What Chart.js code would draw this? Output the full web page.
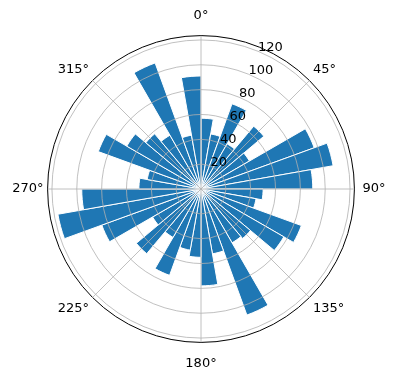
<!doctype html>
<html lang="en">
  <head>
    <meta charset="utf-8">
    <title>polar bars</title>
    <style>
      html, body { margin: 0; padding: 0; background: #fff; }
      #wrap { width: 396px; height: 380px; }
    </style>
  </head>
  <body>
    <div id="wrap"><canvas id="polar-chart"></canvas></div>

    <script src="https://cdn.jsdelivr.net/npm/chart.js"></script>
    <script>
        // bar heights, one per 10 degree sector, clockwise from north
        var barValues = [57, 45, 73, 42, 66, 45, 97, 108, 90,
                         50, 45, 86, 77, 52, 50, 108, 53, 78,
                         55, 50, 74, 45, 68, 45, 85, 117, 96,
                         50, 44, 88, 69, 58, 50, 108, 44, 91]
        // angle labels round the outside
        var angleLabels = ['0°', '45°', '90°', '135°', '180°', '225°', '270°', '315°']
        // radial ticks
        var radialTicks = [20, 40, 60, 80, 100, 120]
        var rMax = 123.5

        var gridGrey = '#b0b0b0'
        var fontFamily = "'DejaVu Sans', sans-serif"

        // draws the radial tick labels along the 22.5 degree direction
        var radialLabels = {
            id: 'radialLabels',
            afterDraw: function(chart) {
                var scale = chart.scales.r
                var ctx = chart.ctx
                var a = 22.5 * Math.PI / 180
                ctx.save()
                ctx.font = '13px ' + fontFamily
                ctx.fillStyle = '#000'
                ctx.textAlign = 'left'
                ctx.textBaseline = 'alphabetic'
                radialTicks.forEach(function(v) {
                    var d = scale.getDistanceFromCenterForValue(v)
                    var x = scale.xCenter + d * Math.sin(a)
                    var y = scale.yCenter - d * Math.cos(a)
                    ctx.fillText(String(v), x, y)
                })
                ctx.restore()
            }
        }

        new Chart(document.getElementById('polar-chart'), {
            type: 'polarArea',
            data: {
                labels: angleLabels,
                datasets: [{
                    data: barValues,
                    backgroundColor: '#1f77b4',
                    borderColor: '#ffffff',
                    borderWidth: 1
                }]
            },
            options: {
                responsive: true,
                maintainAspectRatio: false,
                animation: false,
                layout: { padding: { left: 9, right: 7, top: 8, bottom: 8 } },
                plugins: {
                    legend: { display: false },
                    tooltip: { enabled: false }
                },
                scales: {
                    r: {
                        min: 0,
                        max: rMax,
                        startAngle: 0,
                        afterBuildTicks: function(scale) {
                            scale.ticks = [0].concat(radialTicks, [rMax]).map(function(v) { return { value: v } })
                        },
                        ticks: { display: false },
                        grid: {
                            z: 1,
                            circular: true,
                            color: function(c) { return c.tick && c.tick.value >= rMax ? '#000' : gridGrey },
                            lineWidth: function(c) { return c.tick && c.tick.value >= rMax ? 1 : 0.8 }
                        },
                        angleLines: { display: true, color: gridGrey, lineWidth: 0.8 },
                        pointLabels: {
                            display: true,
                            centerPointLabels: false,
                            color: '#000',
                            font: { family: fontFamily, size: 13 },
                            padding: function(c) { return [12, 5, 8, 5, 13, 5, 4, 5][c.index] }
                        }
                    }
                }
            },
            plugins: [radialLabels]
        })
    </script>
  </body>
</html>
